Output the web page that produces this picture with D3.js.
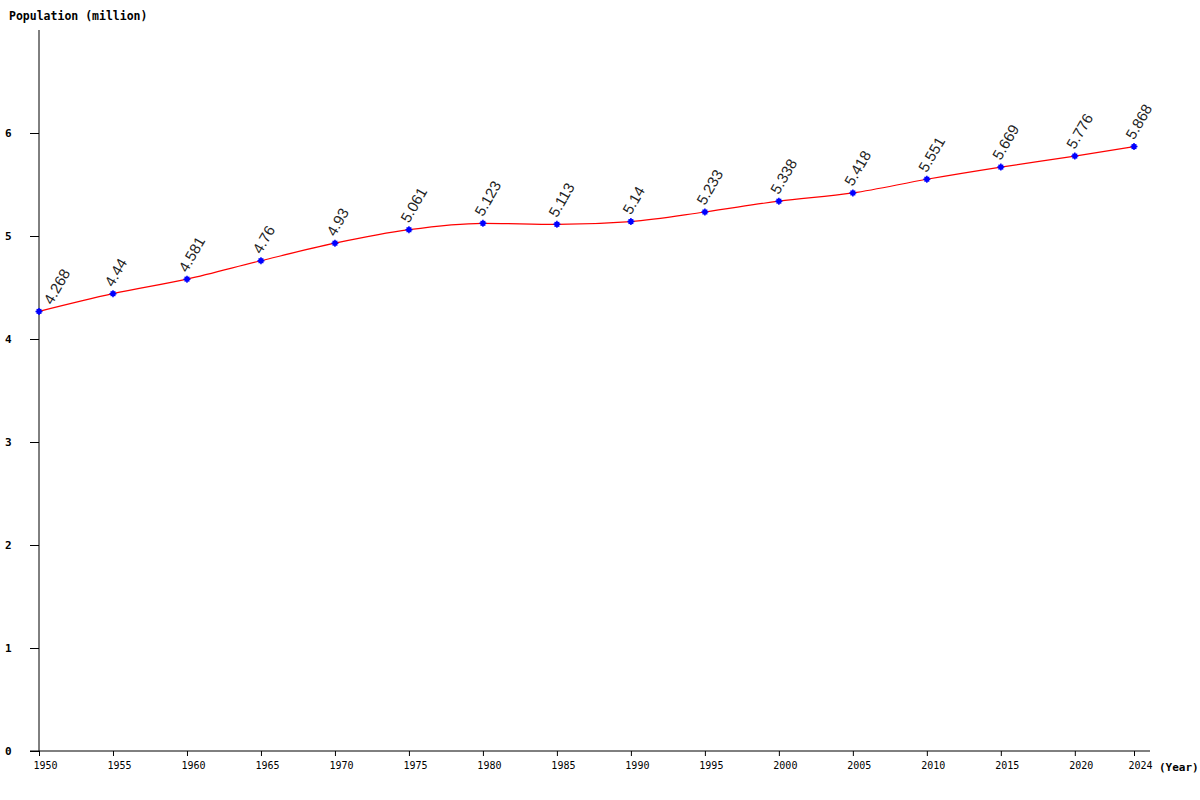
<!DOCTYPE html>
<html>
<head>
<meta charset="utf-8">
<script src="https://cdn.jsdelivr.net/npm/d3@7"></script>
<style>
  body { margin: 0; background: #fff; }
  svg { display: block; }
</style>
</head>
<body>
<svg id="chart"></svg>
<script>
// data
const years = [1950, 1955, 1960, 1965, 1970, 1975, 1980, 1985, 1990, 1995, 2000, 2005, 2010, 2015, 2020, 2024];
const population = [4.268, 4.44, 4.581, 4.76, 4.93, 5.061, 5.123, 5.113, 5.14, 5.233, 5.338, 5.418, 5.551, 5.669, 5.776, 5.868];
const yTicks = [0, 1, 2, 3, 4, 5, 6];

const width = 1200;
const height = 800;

const svg = d3.select("#chart")
    .attr("width", width)
    .attr("height", height);

const x = d3.scaleLinear().domain([1950, 2024]).range([39, 1134]);
const y = d3.scaleLinear().domain([0, 7]).range([751, 30]);

const mono = "'DejaVu Sans Mono', monospace";

// y axis
const yAxis = svg.append("g")
    .attr("transform", "translate(39,0)")
    .call(d3.axisLeft(y).tickValues(yTicks).tickSize(9).tickFormat(d3.format("d")));
yAxis.select(".domain").attr("d", `M0,${y(7)}V${y(0)}`).attr("stroke", "#000");
yAxis.selectAll(".tick line").attr("stroke", "#000");
yAxis.selectAll(".tick text")
    .attr("x", -34)
    .attr("text-anchor", "start")
    .style("font-family", mono)
    .style("font-size", "11px")
    .style("font-weight", "bold")
    .attr("fill", "#000");

// x axis
const xAxis = svg.append("g")
    .attr("transform", `translate(0,${y(0)})`)
    .call(d3.axisBottom(x).tickValues(years).tickSize(5).tickFormat(d3.format("d")));
xAxis.select(".domain").attr("d", "M30,0H1150").attr("stroke", "#000");
xAxis.selectAll(".tick line").attr("stroke", "#000");
xAxis.selectAll(".tick text")
    .attr("x", 6)
    .attr("y", 11)
    .style("font-family", mono)
    .style("font-size", "10px")
    .attr("fill", "#000");

// axis titles
svg.append("text")
    .attr("x", 9)
    .attr("y", 20)
    .style("font-family", mono)
    .style("font-size", "11.5px")
    .style("font-weight", "bold")
    .text("Population (million)");

svg.append("text")
    .attr("x", 1159)
    .attr("y", 771)
    .style("font-family", mono)
    .style("font-size", "11px")
    .style("font-weight", "bold")
    .text("(Year)");

const points = years.map((yr, i) => ({ year: yr, value: population[i] }));

// line
const line = d3.line()
    .x(d => x(d.year))
    .y(d => y(d.value))
    .curve(d3.curveMonotoneX);

svg.append("path")
    .datum(points)
    .attr("d", line)
    .attr("fill", "none")
    .attr("stroke", "#ff0000")
    .attr("stroke-width", 1.2);

// markers: small blue square with a cross
const dots = svg.selectAll(".dot")
    .data(points)
    .enter()
    .append("g")
    .attr("class", "dot")
    .attr("transform", d => `translate(${x(d.year)},${y(d.value)})`);
dots.append("rect")
    .attr("x", -2.5).attr("y", -2.5)
    .attr("width", 5).attr("height", 5)
    .attr("fill", "#0000ff");
dots.append("path")
    .attr("d", "M-3.5,0H3.5M0,-3.5V3.5")
    .attr("stroke", "#0000ff")
    .attr("stroke-width", 1.5);

// value labels (first one is pushed right so it stays clear of the y axis)
const labelMinX = x.range()[0] + 13;
svg.selectAll(".lbl")
    .data(points)
    .enter()
    .append("text")
    .attr("class", "lbl")
    .attr("transform", d => `translate(${Math.max(x(d.year), labelMinX)},${y(d.value) - 6}) rotate(-60)`)
    .style("font-family", "'Liberation Sans', Arial, sans-serif")
    .style("font-size", "15px")
    .attr("fill", "#222")
    .text(d => d.value);
</script>
</body>
</html>
